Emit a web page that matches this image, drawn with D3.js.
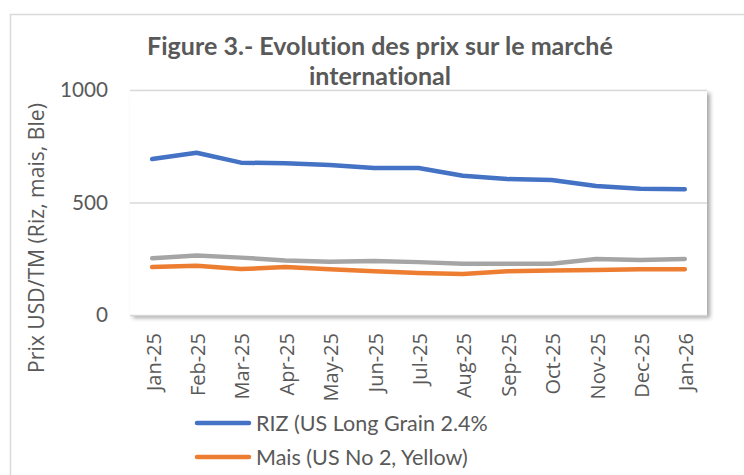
<!DOCTYPE html>
<html><head><meta charset="utf-8">
<script src="https://cdn.jsdelivr.net/npm/d3@7"></script>
<style>html,body{margin:0;padding:0;background:#fff;}svg{display:block;}text{font-variant-ligatures:none;font-feature-settings:"liga" 0,"clig" 0;}</style>
</head><body>
<svg id="chart" width="744" height="475"></svg>
<script>
const months = ["Jan-25","Feb-25","Mar-25","Apr-25","May-25","Jun-25","Jul-25","Aug-25","Sep-25","Oct-25","Nov-25","Dec-25","Jan-26"];
const riz  = [693,721,677,674,667,653,653,619,604,600,573,561,559];
const mais = [213,219,204,213,203,194,187,182,194,198,200,203,203];
const ble  = [252,264,255,242,237,240,235,228,228,228,249,244,249];
const yTicks = [0,500,1000];
const seriesNames = ["RIZ (US Long Grain 2.4%", "Mais (US No 2, Yellow)", "Ble"];
const colors = ["#4472C4","#ED7D31","#A5A5A5"];
const titleLines = ["Figure 3.- Evolution des prix sur le marché","international"];
const yTitle = "Prix USD/TM (Riz, mais, Ble)";

const svg = d3.select("#chart");
const txt = "#595959";
const M = {left:130, right:707, top:90, bottom:315};

function fit(sel, target){
  const w = sel.node().getComputedTextLength();
  const fs = parseFloat(sel.attr("font-size"));
  sel.attr("font-size", fs*target/w);
}

const defs = svg.append("defs");
const f = defs.append("filter").attr("id","shadow").attr("x","-5%").attr("y","-5%").attr("width","115%").attr("height","120%");
f.append("feDropShadow").attr("dx",3).attr("dy",3).attr("stdDeviation",2).attr("flood-color","#000").attr("flood-opacity",0.35);

// outer chart border
svg.append("rect").attr("x",10.5).attr("y",14.5).attr("width",800).attr("height",500)
  .attr("fill","#fff").attr("stroke","#d9d9d9").attr("stroke-width",1.5);

const x = d3.scalePoint().domain(months).range([M.left, M.right]).padding(0.5);
const y = d3.scaleLinear().domain([0,1000]).range([M.bottom, M.top]);

// plot area
svg.append("rect").attr("x",M.left).attr("y",M.top).attr("width",M.right-M.left).attr("height",M.bottom-M.top)
  .attr("fill","#fff").attr("filter","url(#shadow)");

// gridlines
svg.append("g").selectAll("line").data(yTicks).join("line")
  .attr("x1",M.left).attr("x2",M.right).attr("y1",d=>y(d)+0.5).attr("y2",d=>y(d)+0.5)
  .attr("stroke","#d9d9d9").attr("stroke-width",1.3);

// y labels
const yl = svg.append("g").selectAll("text").data(yTicks).join("text")
  .attr("x",108).attr("y",d=>y(d)).attr("dy","0.35em").attr("text-anchor","end")
  .attr("font-family","Lato").attr("font-size",20).attr("fill",txt).text(d=>d);
fit(d3.select(yl.nodes()[2]), 48);
yl.attr("font-size", d3.select(yl.nodes()[2]).attr("font-size"));

// x axis labels
const xa = svg.append("g").attr("transform",`translate(0,${M.bottom})`)
  .call(d3.axisBottom(x).tickSize(0).tickPadding(0));
xa.select(".domain").remove();
xa.selectAll("text")
  .attr("font-family","Open Sans").attr("font-size",20).attr("fill",txt)
  .attr("text-anchor","end").attr("dy","0.35em").attr("y",0)
  .attr("transform","translate(1,18) rotate(-90)");

// lines
const series = [riz, mais, ble];
const line = d3.line().x((d,i)=>x(months[i])).y(d=>y(d));
[2,1,0].forEach(k=>{
  svg.append("path").datum(series[k]).attr("d",line)
    .attr("fill","none").attr("stroke",colors[k]).attr("stroke-width",4.5)
    .attr("stroke-linecap","round").attr("stroke-linejoin","round");
});

// title
const t1 = svg.append("text").attr("x",380).attr("y",55).attr("text-anchor","middle")
  .attr("font-family","Lato").attr("font-weight","bold").attr("font-size",22).attr("fill",txt).text(titleLines[0]);
fit(t1, 466);
svg.append("text").attr("x",380).attr("y",85).attr("text-anchor","middle")
  .attr("font-family","Lato").attr("font-weight","bold").attr("font-size",t1.attr("font-size")).attr("fill",txt).text(titleLines[1]);

// y title
const yt = svg.append("text").attr("transform","translate(37,238) rotate(-90)").attr("text-anchor","middle")
  .attr("dy","0.35em").attr("font-family","Open Sans").attr("font-size",18).attr("fill",txt).text(yTitle);
fit(yt, 270);

// legend
const legY = [423, 457];
let legFs = null;
[0,1].forEach(k=>{
  svg.append("line").attr("x1",197).attr("x2",249).attr("y1",legY[k]).attr("y2",legY[k])
    .attr("stroke",colors[k]).attr("stroke-width",4.5).attr("stroke-linecap","round");
  const lt = svg.append("text").attr("x",256).attr("y",legY[k]).attr("dy","0.35em")
    .attr("font-family","Lato").attr("font-size",20).attr("fill",txt).text(seriesNames[k]);
  if(k===0){ fit(lt, 232); legFs = lt.attr("font-size"); } else lt.attr("font-size", legFs);
});
</script>
</body></html>
